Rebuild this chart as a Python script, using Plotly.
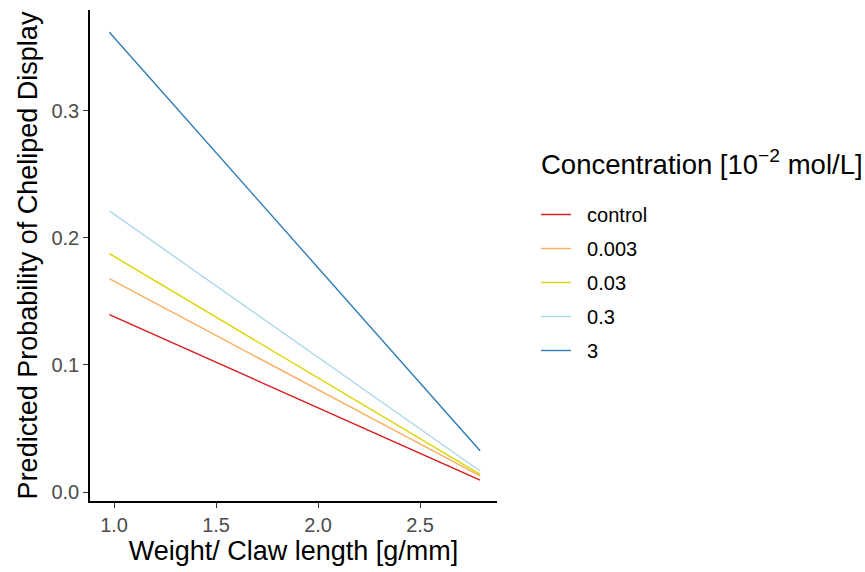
import plotly.graph_objects as go

groups = ["control", "0.003", "0.03", "0.3", "3"]
colors = ["#D7191C", "#FDAE61", "#DDD400", "#ABD9E9", "#2C7BB6"]
x_vals = [0.977, 2.794]
y_start = [0.1396, 0.168, 0.1877, 0.2213, 0.362]
y_end = [0.0094, 0.0126, 0.0139, 0.0165, 0.0325]
x_ticks = [1.0, 1.5, 2.0, 2.5]
y_ticks = [0.0, 0.1, 0.2, 0.3]

fig = go.Figure()
for g, c, a, b in zip(groups, colors, y_start, y_end):
    fig.add_trace(go.Scatter(x=x_vals, y=[a, b], mode="lines", name="\u00a0\u00a0" + g,
                             legendgroup=g, line=dict(color=c, width=1.4)))

font = "Liberation Sans, Arial, sans-serif"
fig.update_layout(
    width=865, height=572,
    margin=dict(l=90, r=368, t=10, b=71),
    paper_bgcolor="white", plot_bgcolor="white",
    font=dict(family=font, color="black"),
    xaxis=dict(range=[0.882, 2.877], tickvals=x_ticks, ticktext=[f"{v:.1f}" for v in x_ticks],
               showgrid=False, zeroline=False, showline=True, linecolor="black", linewidth=1.5,
               ticks="outside", ticklen=5, tickcolor="#333333", tickwidth=1.2,
               tickfont=dict(size=20, color="#4D4D4D"),
               title=dict(text="Weight/ Claw length [g/mm]", font=dict(size=27), standoff=4)),
    yaxis=dict(range=[-0.00709, 0.3795], tickvals=y_ticks, ticktext=[f"{v:.1f}" for v in y_ticks],
               showgrid=False, zeroline=False, showline=True, linecolor="black", linewidth=1.5,
               ticks="outside", ticklen=5, tickcolor="#333333", tickwidth=1.2,
               tickfont=dict(size=20, color="#4D4D4D"),
               title=dict(text="Predicted Probability of Cheliped Display", font=dict(size=27), standoff=6)),
    legend=dict(xref="container", yref="container", x=536/865, y=1-195/572,
                xanchor="left", yanchor="top",
                font=dict(size=20), traceorder="grouped", tracegroupgap=5,
                itemwidth=30, bgcolor="rgba(0,0,0,0)"),
    annotations=[dict(text="Concentration [10<sup>−2</sup> mol/L]", xref="paper", yref="paper",
                      x=(539 - 90) / 407, y=1 - 153 / 491, xanchor="left", yanchor="middle",
                      showarrow=False, font=dict(size=27.5))],
)
fig.write_html("out.html")
